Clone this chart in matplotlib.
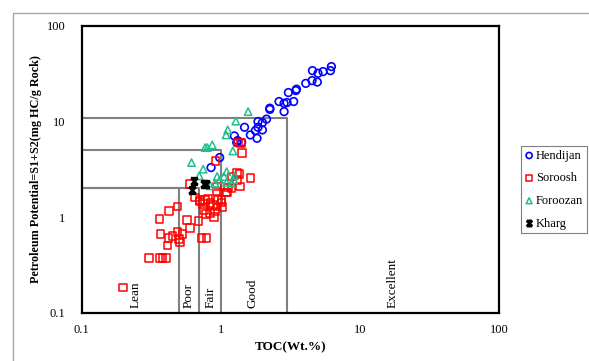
import matplotlib
matplotlib.use("Agg")
import matplotlib.pyplot as plt
from matplotlib.path import Path
from matplotlib.patches import Rectangle

plt.rcParams['font.family'] = ['Liberation Serif', 'DejaVu Serif']

# TOC (wt.%) and S1+S2 (mg HC/g rock)
hendijan_toc = [6.24, 6.14, 5.43, 5.0, 4.56, 4.94, 4.53, 4.08, 3.50, 3.46, 3.06, 3.34,
                2.99, 2.85, 2.62, 2.85, 2.25, 2.25, 2.13, 1.99, 1.85, 1.85, 1.99, 1.77,
                1.63, 1.82, 1.48, 1.25, 1.32, 1.30, 1.41, 0.98, 0.85]
hendijan_s = [37.6, 34.1, 33.3, 32.0, 34.1, 25.9, 26.8, 25.1, 21.8, 21.1, 20.1, 16.2,
              15.8, 15.5, 16.2, 12.7, 13.8, 13.4, 10.6, 9.75, 10.0, 8.71, 8.17, 8.03,
              7.24, 6.68, 8.71, 7.07, 6.32, 6.03, 6.03, 4.20, 3.30]

soroosh_toc = [0.197, 0.305, 0.365, 0.381, 0.403, 0.414, 0.369, 0.419, 0.450, 0.486,
               0.502, 0.508, 0.530, 0.361, 0.423, 0.486, 0.573, 0.598, 0.691, 0.727,
               0.789, 0.598, 0.650, 0.706, 0.767, 0.811, 0.843, 0.755, 0.780, 0.834,
               0.891, 0.906, 0.931, 0.881, 0.957, 1.01, 1.03, 0.931, 0.942, 1.09,
               1.13, 1.19, 1.37, 1.30, 1.36, 1.19, 1.63, 1.30, 0.916, 1.42, 1.39,
               1.33, 1.11, 1.01, 0.746, 0.706]
soroosh_s = [0.183, 0.374, 0.374, 0.374, 0.374, 0.503, 0.662, 0.606, 0.636, 0.695,
             0.587, 0.541, 0.662, 0.957, 1.16, 1.29, 0.935, 0.771, 0.912, 0.601,
             0.601, 2.22, 1.61, 1.45, 1.51, 1.54, 1.40, 1.19, 1.07, 1.10,
             1.0, 1.14, 1.29, 1.34, 1.51, 1.51, 1.27, 1.85, 2.08, 1.81,
             2.04, 2.01, 2.08, 2.45, 2.83, 2.66, 2.55, 2.88, 3.87, 4.66, 5.93,
             6.03, 1.81, 1.42, 1.37, 1.51]

foroozan_toc = [1.57, 1.28, 1.12, 1.09, 0.867, 0.80, 0.77, 1.22, 0.615, 0.746, 0.699,
                0.94, 1.05, 1.10, 0.98, 1.24, 1.19, 0.91, 0.84, 1.25, 1.10]
foroozan_s = [12.7, 10.1, 8.17, 7.24, 5.69, 5.34, 5.34, 4.92, 3.72, 3.17, 2.70,
              2.66, 2.66, 2.99, 2.45, 2.45, 2.26, 2.26, 2.12, 2.70, 2.30]

kharg_toc = [0.643, 0.618, 0.755, 0.776]
kharg_s = [2.37, 1.93, 2.22, 2.22]

# classification boxes: (TOC limit, S1+S2 limit)
box_toc = [0.5, 0.7, 1.0, 3.0]
box_s = [2.0, 2.0, 5.0, 11.0]
zone_names = ['Lean', 'Poor', 'Fair', 'Good', 'Excellent']
zone_x = [0.245, 0.589, 0.847, 1.70, 17.2]

fig = plt.figure(figsize=(5.89, 3.61), dpi=100)
ax = fig.add_axes([0.139, 0.134, 0.708, 0.794])

# grey outer frame of the original sheet
fig.patches.append(Rectangle((13 / 589, -0.2), 1.2, 1.2 - 13 / 361,
                             transform=fig.transFigure, fill=False,
                             edgecolor='#a8a8a8', lw=1.0))

for t, s in zip(box_toc, box_s):
    ax.plot([0.1, t, t], [s, s, 0.1], color='#808080', lw=1.5, zorder=1)

for name, x in zip(zone_names, zone_x):
    ax.text(x, 0.113, name, rotation=90, ha='center', va='bottom', fontsize=9.5)

ax.scatter(hendijan_toc, hendijan_s, s=30, marker='o', facecolors='none',
           edgecolors='#0000ff', linewidths=1.2, label='Hendijan', zorder=3)
ax.scatter(soroosh_toc, soroosh_s, s=30, marker='s', facecolors='none',
           edgecolors='#ff0000', linewidths=1.1, label='Soroosh', zorder=3)
ax.scatter(foroozan_toc, foroozan_s, s=28, marker='^', facecolors='none',
           edgecolors='#1fbf8f', linewidths=1.1, label='Foroozan', zorder=3)

hourglass = Path([(-1, -1), (1, 1), (-1, 1), (1, -1), (-1, 1), (1, 1), (-1, -1), (1, -1)],
                 [Path.MOVETO, Path.LINETO, Path.MOVETO, Path.LINETO,
                  Path.MOVETO, Path.LINETO, Path.MOVETO, Path.LINETO])
ax.scatter(kharg_toc, kharg_s, s=24, marker=hourglass, color='black',
           linewidths=1.8, label='Kharg', zorder=4)

ax.set_xscale('log')
ax.set_yscale('log')
ax.set_xlim(0.1, 100)
ax.set_ylim(0.1, 100)
ax.set_xticks([0.1, 1, 10, 100])
ax.set_xticklabels(['0.1', '1', '10', '100'])
ax.set_yticks([0.1, 1, 10, 100])
ax.set_yticklabels(['0.1', '1', '10', '100'])
ax.minorticks_off()
ax.tick_params(axis='both', length=0, labelsize=9)
ax.tick_params(axis='x', pad=8)
ax.tick_params(axis='y', pad=12)
for sp in ax.spines.values():
    sp.set_linewidth(1.6)

ax.set_xlabel('TOC(Wt.%)', fontsize=9.5, fontweight='bold', labelpad=4)
ax.set_ylabel('Petroleum Potential=S1+S2(mg HC/g Rock)', fontsize=8.7,
              fontweight='bold', labelpad=3)

leg = fig.legend(loc='upper left', bbox_to_anchor=(521 / 589, 1 - 146 / 361),
                 fontsize=9, frameon=True, fancybox=False, handletextpad=0.2,
                 handlelength=0.7, labelspacing=0.85, borderpad=0.3,
                 borderaxespad=0.0, markerscale=0.8)
leg.get_frame().set_edgecolor('#606060')
leg.get_frame().set_linewidth(0.8)

fig.savefig('out.png', dpi=100)
